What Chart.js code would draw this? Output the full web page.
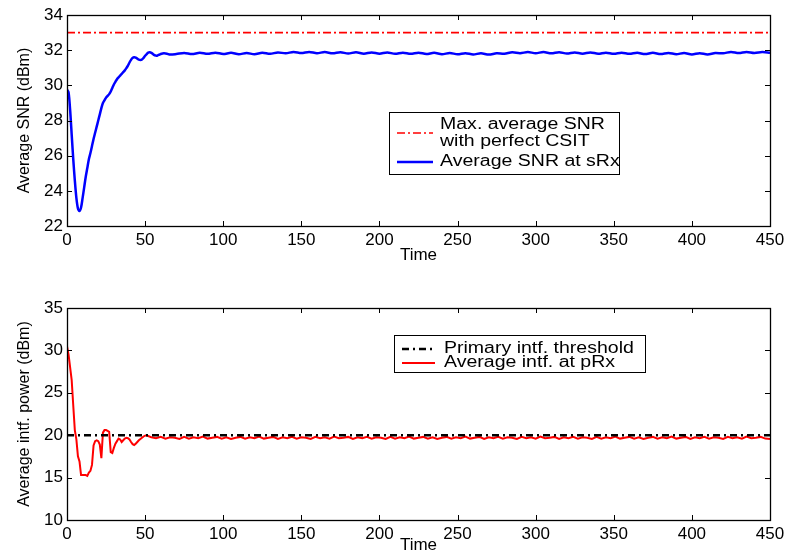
<!DOCTYPE html>
<html lang="en">
<head>
  <meta charset="UTF-8" />
  <title>Average SNR and interference over time</title>
  <script src="https://cdn.jsdelivr.net/npm/chart.js"></script>
  <style>
    body { margin: 0; background: #fff; }
    .panel { position: absolute; left: 0; width: 791px; height: 278px; }
    #topPanel { top: 0; }
    #bottomPanel { top: 278px; }
  </style>
</head>
<body>
  <div class="panel" id="topPanel"><canvas id="snrChart" width="791" height="278"></canvas></div>
  <div class="panel" id="bottomPanel"><canvas id="intfChart" width="791" height="278"></canvas></div>

  <script>
    // ---- data ----
    const timeRange = [0, 450];
    const timeTicks = [0, 50, 100, 150, 200, 250, 300, 350, 400, 450];

    const maxSnr = 33;          // max. average SNR with perfect CSIT
    const intfThreshold = 20;   // primary interference threshold

    const snrTime = [
      0, 1, 2, 3, 4, 5, 6, 7, 8, 9,
      10, 11, 12, 13, 14, 15, 16, 17, 18, 19,
      20, 21, 22, 23, 24, 25, 26, 27, 28, 29,
      30, 31, 32, 33, 34, 35, 36, 37, 38, 39,
      40, 41, 42, 43, 44, 45, 46, 47, 48, 49,
      50, 51, 52, 53, 54, 55, 56, 57, 58, 59,
      60, 62, 64, 66,
      70, 75, 80, 85, 90, 95, 100, 105, 110, 115,
      120, 125, 130, 135, 140, 145, 150, 155, 160, 165,
      170, 175, 180, 185, 190, 195, 200, 205, 210, 215,
      220, 225, 230, 235, 240, 245, 250, 255, 260, 265,
      270, 275, 280, 285, 290, 295, 300, 305, 310, 315,
      320, 325, 330, 335, 340, 345, 350, 355, 360, 365,
      370, 375, 380, 385, 390, 395, 400, 405, 410, 415,
      420, 425, 430, 435, 440, 445, 450
    ];
    const snrValue = [
      29.75, 29.6, 28.6, 27.2, 25.8, 24.6, 23.6, 23.0, 22.85, 23.05,
      23.6, 24.2, 24.8, 25.3, 25.8, 26.15, 26.55, 26.95, 27.3, 27.65,
      28.0, 28.35, 28.7, 29.0, 29.15, 29.3, 29.4, 29.5, 29.65, 29.85,
      30.05, 30.2, 30.35, 30.45, 30.55, 30.65, 30.75, 30.85, 30.98, 31.12,
      31.3, 31.45, 31.56, 31.6, 31.58, 31.52, 31.46, 31.44, 31.47, 31.56,
      31.68, 31.78, 31.86, 31.88, 31.85, 31.78, 31.72, 31.69, 31.7, 31.74,
      31.78, 31.82, 31.8, 31.75,
      31.78, 31.84, 31.78, 31.85, 31.79, 31.86, 31.78, 31.85, 31.77, 31.84,
      31.77, 31.85, 31.79, 31.87, 31.82, 31.9, 31.84, 31.9, 31.83, 31.89,
      31.82, 31.88, 31.81, 31.88, 31.8, 31.87, 31.8, 31.87, 31.79, 31.86,
      31.79, 31.86, 31.78, 31.85, 31.77, 31.84, 31.77, 31.83, 31.76, 31.82,
      31.75, 31.82, 31.8, 31.88, 31.83, 31.89, 31.83, 31.89, 31.82, 31.88,
      31.81, 31.87, 31.8, 31.87, 31.8, 31.86, 31.79, 31.86, 31.79, 31.85,
      31.78, 31.85, 31.78, 31.84, 31.77, 31.84, 31.76, 31.83, 31.76, 31.84,
      31.82, 31.9, 31.84, 31.9, 31.84, 31.89, 31.86
    ];

    const intfTime = [
      0, 1, 2, 3, 4, 5, 6, 7, 8, 9,
      10, 11, 12, 13, 14, 15, 16, 17, 18, 19,
      20, 21, 22, 23, 24, 25, 26, 27, 28, 29,
      30, 31, 32, 33, 34, 35, 36, 37, 38, 39,
      40, 41, 42, 43, 44, 45, 46, 47, 48, 49,
      50, 51, 52,
      54, 57, 60, 63, 66, 69, 72, 75, 78, 81,
      84, 87, 90, 93, 96, 99, 102, 105, 108, 111,
      114, 117, 120, 123, 126, 129, 132, 135, 138, 141,
      144, 147, 150, 153, 156, 159, 162, 165, 168, 171,
      174, 177, 180, 183, 186, 189, 192, 195, 198, 201,
      204, 207, 210, 213, 216, 219, 222, 225, 228, 231,
      234, 237, 240, 243, 246, 249, 252, 255, 258, 261,
      264, 267, 270, 273, 276, 279, 282, 285, 288, 291,
      294, 297, 300, 303, 306, 309, 312, 315, 318, 321,
      324, 327, 330, 333, 336, 339, 342, 345, 348, 351,
      354, 357, 360, 363, 366, 369, 372, 375, 378, 381,
      384, 387, 390, 393, 396, 399, 402, 405, 408, 411,
      414, 417, 420, 423, 426, 429, 432, 435, 438, 441,
      444, 447, 450
    ];
    const intfValue = [
      30.5, 29.5, 28.0, 26.5, 23.5, 20.6, 19.5, 17.5, 16.9, 15.3,
      15.3, 15.3, 15.3, 15.2, 15.6, 15.8, 16.5, 18.8, 19.3, 19.4,
      19.3, 18.9, 17.3, 20.3, 20.6, 20.6, 20.5, 20.4, 18.0, 17.9,
      18.5, 19.0, 19.3, 19.6, 19.5, 19.2, 19.4, 19.6, 19.7, 19.65,
      19.5, 19.2, 18.95, 18.85, 19.0, 19.2, 19.4, 19.55, 19.7, 19.85,
      19.95, 20.0, 19.9,
      19.75, 19.65, 19.8, 19.6, 19.75, 19.7, 19.55, 19.8, 19.6, 19.75,
      19.65, 19.85, 19.6, 19.7, 19.8, 19.6, 19.75, 19.55, 19.7, 19.8,
      19.6, 19.75, 19.65, 19.85, 19.6, 19.7, 19.8, 19.55, 19.75, 19.65,
      19.8, 19.6, 19.75, 19.7, 19.55, 19.8, 19.65, 19.75, 19.6, 19.85,
      19.65, 19.7, 19.8, 19.55, 19.75, 19.65, 19.8, 19.6, 19.75, 19.7,
      19.55, 19.8, 19.6, 19.75, 19.65, 19.85, 19.6, 19.7, 19.8, 19.6,
      19.75, 19.55, 19.7, 19.8, 19.6, 19.75, 19.65, 19.85, 19.6, 19.7,
      19.8, 19.55, 19.75, 19.65, 19.8, 19.6, 19.75, 19.7, 19.55, 19.8,
      19.65, 19.75, 19.6, 19.85, 19.65, 19.7, 19.8, 19.55, 19.75, 19.65,
      19.8, 19.6, 19.75, 19.7, 19.55, 19.8, 19.6, 19.75, 19.65, 19.85,
      19.6, 19.7, 19.8, 19.6, 19.75, 19.55, 19.7, 19.8, 19.6, 19.75,
      19.65, 19.85, 19.6, 19.7, 19.8, 19.55, 19.75, 19.65, 19.8, 19.6,
      19.75, 19.7, 19.55, 19.8, 19.65, 19.75, 19.6, 19.85, 19.65, 19.7,
      19.8, 19.6, 19.55
    ];

    const snrLegend = [['Max. average SNR', 'with perfect CSIT'], ['Average SNR at sRx']];
    const intfLegend = [['Primary intf. threshold'], ['Average intf. at pRx']];

    // ---- helpers ----
    const FONT = "'Liberation Sans', Arial, Helvetica, sans-serif";
    Chart.defaults.font.family = FONT;
    Chart.defaults.color = '#000';

    function toPoints(xs, ys) {
      return xs.map((t, i) => ({ x: t, y: ys[i] }));
    }

    // MATLAB-style box with inward ticks on all four sides
    const boxTicks = {
      id: 'boxTicks',
      afterDatasetsDraw(chart) {
        const { ctx, chartArea: a, scales: { x, y } } = chart;
        const len = 5;
        ctx.save();
        ctx.strokeStyle = '#000';
        ctx.lineWidth = 1;
        ctx.beginPath();
        x.ticks.forEach(t => {
          const px = Math.round(x.getPixelForValue(t.value)) + 0.5;
          ctx.moveTo(px, a.bottom); ctx.lineTo(px, a.bottom - len);
          ctx.moveTo(px, a.top); ctx.lineTo(px, a.top + len);
        });
        y.ticks.forEach(t => {
          const py = Math.round(y.getPixelForValue(t.value)) + 0.5;
          ctx.moveTo(a.left, py); ctx.lineTo(a.left + len, py);
          ctx.moveTo(a.right, py); ctx.lineTo(a.right - len, py);
        });
        ctx.stroke();
        ctx.lineWidth = 1.3;
        ctx.strokeRect(Math.round(a.left) + 0.5, Math.round(a.top) + 0.5,
                       Math.round(a.width), Math.round(a.height));
        ctx.restore();
      }
    };

    // legend box drawn inside the plot area
    const boxLegend = {
      id: 'boxLegend',
      afterDraw(chart, args, opts) {
        const ctx = chart.ctx;
        const [bx, by, bw, bh] = opts.box;
        ctx.save();
        ctx.fillStyle = '#fff';
        ctx.fillRect(bx, by, bw, bh);
        ctx.strokeStyle = '#000';
        ctx.lineWidth = 1;
        ctx.strokeRect(bx + 0.5, by + 0.5, bw, bh);
        opts.items.forEach((item, i) => {
          const ds = chart.data.datasets[i];
          ctx.beginPath();
          ctx.setLineDash(ds.borderDash || []);
          ctx.strokeStyle = ds.borderColor;
          ctx.lineWidth = ds.borderWidth;
          ctx.moveTo(bx + opts.sampleX[0], by + item.sampleY);
          ctx.lineTo(bx + opts.sampleX[1], by + item.sampleY);
          ctx.stroke();
          ctx.setLineDash([]);
          ctx.fillStyle = '#000';
          ctx.font = '16px ' + FONT;
          ctx.textBaseline = 'middle';
          opts.labels[i].forEach((line, k) => {
            ctx.save();
            ctx.translate(bx + opts.textX, by + item.rows[k]);
            ctx.scale(1.22, 1);
            ctx.fillText(line, 0, 0);
            ctx.restore();
          });
        });
        ctx.restore();
      }
    };

    function makeOptions(yMin, yMax, yStep, yTitle, pad, legend) {
      return {
        responsive: false,
        animation: false,
        devicePixelRatio: 1,
        layout: { padding: pad },
        elements: { point: { radius: 0 } },
        scales: {
          x: {
            type: 'linear',
            min: timeRange[0],
            max: timeRange[1],
            afterBuildTicks: s => { s.ticks = timeTicks.map(v => ({ value: v })); },
            afterFit: s => { s.height = pad.xHeight; },
            grid: { display: false, drawTicks: false },
            border: { display: false },
            ticks: { padding: 4, maxRotation: 0, autoSkip: false, font: { size: 17 }, color: '#000' },
            title: { display: true, text: 'Time', font: { size: 17 }, padding: { top: 0, bottom: 0 }, color: '#000' }
          },
          y: {
            min: yMin,
            max: yMax,
            afterFit: s => { s.width = 67; },
            grid: { display: false, drawTicks: false },
            border: { display: false },
            ticks: { stepSize: yStep, padding: 4, font: { size: 17 }, color: '#000' },
            title: { display: true, text: yTitle, font: { size: 16 }, padding: { top: 15, bottom: 0 }, color: '#000' }
          }
        },
        plugins: {
          legend: { display: false },
          tooltip: { enabled: false },
          boxLegend: legend
        }
      };
    }

    // ---- top panel: average SNR ----
    new Chart(document.getElementById('snrChart'), {
      type: 'line',
      data: {
        datasets: [
          {
            label: snrLegend[0].join(' '),
            data: toPoints(timeRange, [maxSnr, maxSnr]),
            borderColor: '#ff0000',
            borderWidth: 1.6,
            borderDash: [8, 3, 2, 3]
          },
          {
            label: snrLegend[1].join(' '),
            data: toPoints(snrTime, snrValue),
            borderColor: '#0000ff',
            borderWidth: 2.5,
            tension: 0.3
          }
        ]
      },
      options: makeOptions(22, 34, 2, 'Average SNR (dBm)',
        { top: 15, right: 21, bottom: 12, left: 0, xHeight: 40 },
        { box: [389, 112, 230, 62], sampleX: [8, 44], textX: 51, labels: snrLegend,
          items: [{ sampleY: 21, rows: [13, 30] }, { sampleY: 50, rows: [50] }] }),
      plugins: [boxTicks, boxLegend]
    });

    // ---- bottom panel: average interference ----
    new Chart(document.getElementById('intfChart'), {
      type: 'line',
      data: {
        datasets: [
          {
            label: intfLegend[0].join(' '),
            data: toPoints(timeRange, [intfThreshold, intfThreshold]),
            borderColor: '#000000',
            borderWidth: 2.6,
            borderDash: [7, 4, 2, 4]
          },
          {
            label: intfLegend[1].join(' '),
            data: toPoints(intfTime, intfValue),
            borderColor: '#ff0000',
            borderWidth: 2,
            tension: 0
          }
        ]
      },
      options: makeOptions(10, 35, 5, 'Average intf. power (dBm)',
        { top: 30, right: 21, bottom: 0, left: 0, xHeight: 36 },
        { box: [394, 57, 251, 37], sampleX: [8, 41], textX: 50, labels: intfLegend,
          items: [{ sampleY: 14, rows: [14] }, { sampleY: 28, rows: [28] }] }),
      plugins: [boxTicks, boxLegend]
    });
  </script>
</body>
</html>
